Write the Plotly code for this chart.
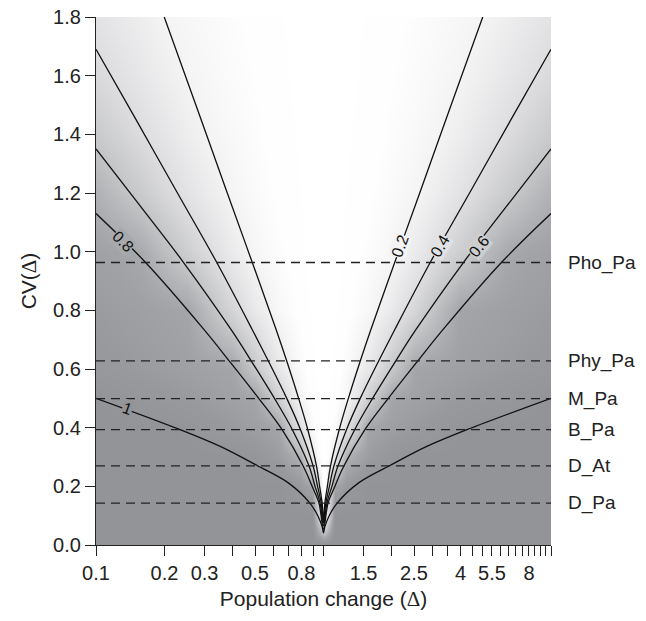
import math
import plotly.graph_objects as go

# ---------------- data ----------------
# horizontal reference lines: observed CV of each data set
ref_names = ["Pho_Pa", "Phy_Pa", "M_Pa", "B_Pa", "D_At", "D_Pa"]
ref_cv = [0.963, 0.628, 0.499, 0.393, 0.270, 0.143]

# contour lines: CV value and distance from "no change" (|log10 Δ|); symmetric about Δ = 1
c02_cv = [0.085, 0.143, 0.20, 0.27, 0.393, 0.499, 0.628, 0.734, 0.963, 1.20, 1.50, 1.80]
c02_u = [0.0, 0.006, 0.017, 0.031, 0.069, 0.109, 0.162, 0.208, 0.313, 0.423, 0.561, 0.700]

c04_cv = [0.075, 0.143, 0.20, 0.27, 0.393, 0.499, 0.628, 0.734, 0.963, 1.20, 1.45, 1.69]
c04_u = [0.0, 0.010, 0.026, 0.046, 0.101, 0.161, 0.243, 0.313, 0.469, 0.642, 0.824, 1.000]

c06_cv = [0.065, 0.143, 0.20, 0.27, 0.393, 0.499, 0.628, 0.734, 0.963, 1.15, 1.35]
c06_u = [0.0, 0.015, 0.037, 0.064, 0.137, 0.215, 0.318, 0.406, 0.615, 0.800, 1.000]

c08_cv = [0.055, 0.143, 0.20, 0.27, 0.393, 0.499, 0.628, 0.734, 0.963, 1.13]
c08_u = [0.0, 0.020, 0.050, 0.090, 0.182, 0.284, 0.415, 0.525, 0.782, 1.000]

c10_cv = [0.041, 0.0625, 0.10, 0.143, 0.211, 0.271, 0.336, 0.393, 0.50]
c10_u = [0.0, 0.006, 0.025, 0.060, 0.153, 0.292, 0.454, 0.630, 1.000]

# background shading (estimated value on a grid of |log10 Δ| x CV)
grid_u = [0.0, 0.05, 0.1, 0.2, 0.3, 0.4, 0.5, 0.6, 0.7, 0.8, 0.9, 1.0]
grid_cv = [0.0, 0.1, 0.2, 0.3, 0.4, 0.5, 0.6, 0.8, 1.0, 1.2, 1.4, 1.6, 1.8]
grid_z = [
    [1, 1, 1, 1, 1, 1, 1, 1, 1, 1, 1, 1],
    [0.10, 1, 1, 1, 1, 1, 1, 1, 1, 1, 1, 1],
    [0.05, 0.80, 0.89, 1, 1, 1, 1, 1, 1, 1, 1, 1],
    [0.03, 0.30, 0.72, 0.87, 0.95, 1, 1, 1, 1, 1, 1, 1],
    [0.02, 0.14, 0.37, 0.805, 0.85, 0.89, 0.93, 0.98, 1, 1, 1, 1],
    [0.015, 0.09, 0.18, 0.53, 0.80, 0.83, 0.86, 0.89, 0.92, 0.94, 0.97, 1],
    [0.01, 0.065, 0.13, 0.32, 0.58, 0.80, 0.82, 0.84, 0.86, 0.88, 0.90, 0.92],
    [0.005, 0.04, 0.085, 0.17, 0.30, 0.47, 0.64, 0.80, 0.82, 0.84, 0.86, 0.88],
    [0.0, 0.03, 0.06, 0.12, 0.18, 0.28, 0.405, 0.53, 0.65, 0.77, 0.81, 0.83],
    [0.0, 0.025, 0.05, 0.095, 0.14, 0.19, 0.27, 0.36, 0.455, 0.55, 0.64, 0.725],
    [0.0, 0.02, 0.04, 0.078, 0.117, 0.155, 0.195, 0.26, 0.335, 0.41, 0.485, 0.56],
    [0.0, 0.016, 0.033, 0.066, 0.10, 0.13, 0.165, 0.198, 0.257, 0.318, 0.38, 0.44],
    [0.0, 0.014, 0.029, 0.057, 0.086, 0.114, 0.143, 0.171, 0.20, 0.253, 0.305, 0.358],
]

# axis ticks
x_tick_vals = [0.1, 0.2, 0.3, 0.4, 0.5, 0.6, 0.7, 0.8, 0.9, 1.0, 1.5, 2, 2.5, 3, 3.5, 4,
               4.5, 5, 5.5, 6, 6.5, 7, 7.5, 8, 8.5, 9, 9.5, 10]
x_tick_text = ["0.1", "0.2", "0.3", "", "0.5", "", "", "0.8", "", "", "1.5", "", "2.5", "",
               "", "4", "", "", "5.5", "", "", "", "", "8", "", "", "", ""]
y_tick_vals = [0.0, 0.2, 0.4, 0.6, 0.8, 1.0, 1.2, 1.4, 1.6, 1.8]
y_tick_text = ["0.0", "0.2", "0.4", "0.6", "0.8", "1.0", "1.2", "1.4", "1.6", "1.8"]

# contour labels: text, Δ, CV
lab_text = ["0.8", "0.2", "0.4", "0.6", "1"]
lab_delta = [0.1315, 2.163, 3.24, 4.82, 0.137]
lab_cv = [1.035, 1.018, 1.018, 1.018, 0.466]

# ---------------- figure ----------------
FONT = "Liberation Sans, Arial, Helvetica, sans-serif"


def mirror_x(u):
    return [10 ** (-a) for a in reversed(u)] + [10 ** a for a in u[1:]]


def mirror_y(v):
    return list(reversed(v)) + list(v[1:])


fig = go.Figure()

hx = [10 ** (-a) for a in reversed(grid_u)] + [10 ** a for a in grid_u[1:]]
hz = [list(reversed(row)) + row[1:] for row in grid_z]
fig.add_trace(go.Heatmap(
    x=hx, y=grid_cv, z=hz, zmin=0, zmax=1, zsmooth="best", showscale=False,
    hoverinfo="skip",
    colorscale=[
        [0.0, "rgb(255,255,255)"],
        [0.1, "rgb(254,254,254)"],
        [0.2, "rgb(244,244,245)"],
        [0.4, "rgb(222,222,224)"],
        [0.6, "rgb(196,197,199)"],
        [0.8, "rgb(164,165,168)"],
        [0.9, "rgb(152,153,157)"],
        [1.0, "rgb(147,148,152)"],
    ],
))

for u, cv in [(c02_u, c02_cv), (c04_u, c04_cv), (c06_u, c06_cv), (c08_u, c08_cv), (c10_u, c10_cv)]:
    fig.add_trace(go.Scatter(
        x=mirror_x(u), y=mirror_y(cv), mode="lines",
        line=dict(color="#111111", width=1.3, shape="spline", smoothing=1.0),
        hoverinfo="skip", showlegend=False,
    ))

for name, v in zip(ref_names, ref_cv):
    fig.add_trace(go.Scatter(
        x=[0.1, 10], y=[v, v], mode="lines",
        line=dict(color="#222222", width=1.3, dash="9px,6px"),
        hoverinfo="skip", showlegend=False,
    ))

annotations = []
lab_angle = [45, -70, -60, -52, 20]
lab_bg = ["rgb(168,169,172)", "rgb(243,243,244)", "rgb(226,226,228)", "rgb(205,206,208)", "rgb(147,148,152)"]
for t, d, c, ang, bg in zip(lab_text, lab_delta, lab_cv, lab_angle, lab_bg):
    annotations.append(dict(
        x=math.log10(d), y=c, xref="x", yref="y", text=t, showarrow=False,
        textangle=ang, font=dict(family=FONT, size=16, color="#111111"),
        bgcolor=bg, borderpad=0,
    ))

for name, v in zip(ref_names, ref_cv):
    annotations.append(dict(
        x=1.036, y=v, xref="paper", yref="y", text=name, showarrow=False,
        xanchor="left", yanchor="middle", borderpad=0,
        font=dict(family=FONT, size=19, color="#222222"),
    ))

fig.update_layout(
    width=646, height=621,
    margin=dict(l=96, r=95, t=17, b=76, autoexpand=False),
    paper_bgcolor="white", plot_bgcolor="white",
    showlegend=False,
    annotations=annotations,
    font=dict(family=FONT, size=20, color="#222222"),
)

fig.update_xaxes(
    type="log", range=[-1, 1], automargin=False,
    tickvals=x_tick_vals, ticktext=x_tick_text,
    ticks="outside", ticklen=10, tickwidth=1, tickcolor="#222222",
    ticklabeloverflow="allow",
    showline=True, linecolor="#222222", linewidth=1.2,
    showgrid=False, zeroline=False,
    tickfont=dict(family=FONT, size=20, color="#222222"),
    title=dict(text='Population change (<span style="font-family:Liberation Serif">Δ</span>)',
               font=dict(family=FONT, size=21, color="#222222"), standoff=8),
)
fig.update_yaxes(
    range=[0, 1.8], automargin=False,
    tickvals=y_tick_vals, ticktext=y_tick_text,
    ticks="outside", ticklen=10, tickwidth=1, tickcolor="#222222",
    ticklabeloverflow="allow",
    showline=True, linecolor="#222222", linewidth=1.2,
    showgrid=False, zeroline=False,
    tickfont=dict(family=FONT, size=20, color="#222222"),
    title=dict(text='CV(<span style="font-family:Liberation Serif">Δ</span>)',
               font=dict(family=FONT, size=21, color="#222222"), standoff=10),
)

# remove the page's default 8px body margin so the figure fills the window
fig.write_html("out.html", config={"displayModeBar": False},
               post_script="document.body.style.margin='0px';")
